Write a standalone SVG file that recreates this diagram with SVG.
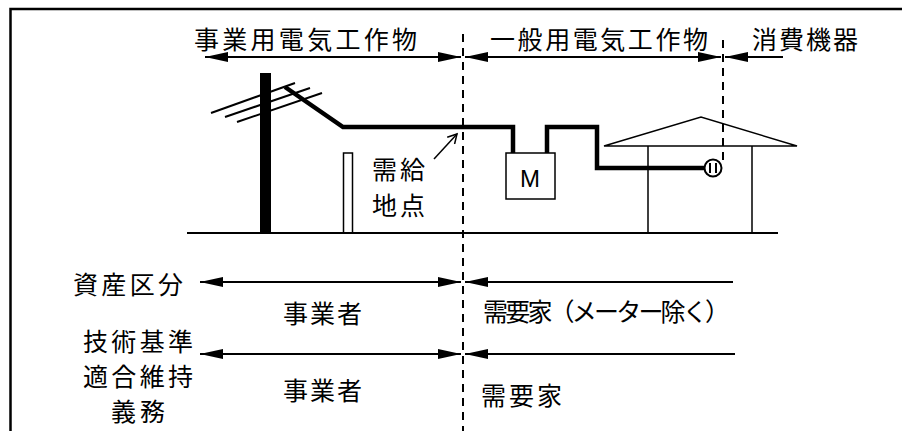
<svg xmlns="http://www.w3.org/2000/svg" width="902" height="431" viewBox="0 0 902 431">
  <style>
    .t { font-family: "Noto Sans CJK JP", "Noto Sans", sans-serif; font-size: 25px; fill: #000; dominant-baseline: central; }
    .m { font-family: "Liberation Sans", Arial, sans-serif; font-size: 24px; fill: #000; text-anchor: middle; dominant-baseline: central; }
    .thin { fill: none; stroke: #000; stroke-width: 1.5; }
    .wire { fill: none; stroke: #000; stroke-width: 4.5; stroke-linejoin: miter; }
    .arr { fill: none; stroke: #000; stroke-width: 2; }
    .dash { fill: none; stroke: #000; stroke-width: 2; stroke-dasharray: 8 6; }
  </style>
  <defs>
    <marker id="head" markerUnits="userSpaceOnUse" markerWidth="24" markerHeight="12" viewBox="0 0 24 12" refX="23" refY="6" orient="auto-start-reverse">
      <path d="M0,1 L23,6 L0,11 Z" fill="#000"/>
    </marker>
    <marker id="open" markerUnits="userSpaceOnUse" markerWidth="12" markerHeight="12" viewBox="0 0 12 12" refX="10" refY="6" orient="auto">
      <path d="M1,1 L10,6 L1,11" fill="none" stroke="#000" stroke-width="1.5"/>
    </marker>
  </defs>

  <rect id="white" width="902" height="431" fill="#fff"/>
  <!-- frame (right and bottom edges run off the sheet) -->
  <path id="frame" d="M10.5,440 V9 H910" fill="none" stroke="#000" stroke-width="2.5"/>

  <!-- boundary lines -->
  <g id="boundaries">
    <line class="dash" x1="463" y1="34" x2="463" y2="431"/>
    <line class="dash" x1="723" y1="40" x2="723" y2="160"/>
  </g>

  <!-- headings -->
  <g id="head-utility">
    <text class="t" x="194" y="38" textLength="223" lengthAdjust="spacing">事業用電気工作物</text>
  </g>
  <g id="head-general">
    <text class="t" x="490" y="38" textLength="218" lengthAdjust="spacing">一般用電気工作物</text>
  </g>
  <g id="head-consumer">
    <text class="t" x="752" y="38" textLength="106" lengthAdjust="spacing">消費機器</text>
  </g>

  <!-- utility pole with crossarm wires -->
  <g id="pole">
    <rect x="260" y="73" width="11" height="160" fill="#000"/>
    <line class="arr" x1="211" y1="113" x2="295" y2="83"/>
    <line class="arr" x1="225" y1="117" x2="310" y2="88"/>
    <line class="arr" x1="237" y1="122" x2="322" y2="93"/>
  </g>

  <!-- service entrance post -->
  <g id="post">
    <rect class="thin" x="343.5" y="153" width="9" height="80"/>
  </g>

  <!-- supply point label -->
  <g id="supply-point">
    <text class="t" x="372" y="168" textLength="53" lengthAdjust="spacing">需給</text>
    <text class="t" x="372" y="204" textLength="53" lengthAdjust="spacing">地点</text>
  </g>

  <!-- meter -->
  <g id="meter">
    <rect class="thin" x="506" y="153" width="49" height="46" fill="#fff"/>
    <text class="m" x="530" y="178">M</text>
  </g>

  <!-- house -->
  <g id="house">
    <path class="thin" d="M604,146 L701,117 L797,146 Z"/>
    <path class="thin" d="M648,146 V233 M752,146 V233"/>
  </g>

  <!-- outlet -->
  <g id="outlet">
    <circle cx="713" cy="168" r="8.5" fill="#fff" stroke="#000" stroke-width="2"/>
    <path d="M710,163 V173 M716,163 V173" stroke="#000" stroke-width="2"/>
  </g>

  <!-- ground -->
  <line id="ground" x1="187" y1="233" x2="778" y2="233" stroke="#000" stroke-width="2"/>

  <!-- labels of the lower rows -->
  <g id="row-asset">
    <text class="t" x="73" y="283" textLength="110" lengthAdjust="spacing">資産区分</text>
  </g>
  <g id="row-duty">
    <text class="t" x="83" y="340" textLength="110" lengthAdjust="spacing">技術基準</text>
    <text class="t" x="83" y="375" textLength="110" lengthAdjust="spacing">適合維持</text>
    <text class="t" x="111" y="410" textLength="54" lengthAdjust="spacing">義務</text>
  </g>
  <g id="asset-utility">
    <text class="t" x="283" y="312" textLength="79" lengthAdjust="spacing">事業者</text>
  </g>
  <g id="asset-customer">
    <text class="t" x="483" y="310" textLength="247" lengthAdjust="spacing">需要家（メーター除く）</text>
  </g>
  <g id="duty-utility">
    <text class="t" x="283" y="389" textLength="79" lengthAdjust="spacing">事業者</text>
  </g>
  <g id="duty-customer">
    <text class="t" x="481" y="394" textLength="81" lengthAdjust="spacing">需要家</text>
  </g>

  <!-- connectors -->
  <g id="connectors">
    <!-- service drop and customer wiring -->
    <path class="wire" d="M285,87 L343,127 H513 V153"/>
    <path class="wire" d="M547,153 V127 H597 V168 H648"/>
    <path class="wire" d="M648,168 H704" stroke-width="5.5"/>
    <!-- pointer to the supply point -->
    <line x1="434" y1="159" x2="457" y2="134" stroke="#000" stroke-width="1.5" marker-end="url(#open)"/>
    <!-- scope arrows -->
    <line class="arr" x1="205" y1="57" x2="461" y2="57" marker-start="url(#head)" marker-end="url(#head)"/>
    <line class="arr" x1="465" y1="57" x2="721" y2="57" marker-start="url(#head)" marker-end="url(#head)"/>
    <line class="arr" x1="783" y1="57" x2="725" y2="57" marker-end="url(#head)"/>
    <!-- asset classification -->
    <line class="arr" x1="200" y1="282" x2="461" y2="282" marker-start="url(#head)" marker-end="url(#head)"/>
    <line class="arr" x1="733" y1="282" x2="465" y2="282" marker-end="url(#head)"/>
    <!-- technical standard duty -->
    <line class="arr" x1="200" y1="354" x2="461" y2="354" marker-start="url(#head)" marker-end="url(#head)"/>
    <line class="arr" x1="735" y1="354" x2="465" y2="354" marker-end="url(#head)"/>
  </g>
</svg>
